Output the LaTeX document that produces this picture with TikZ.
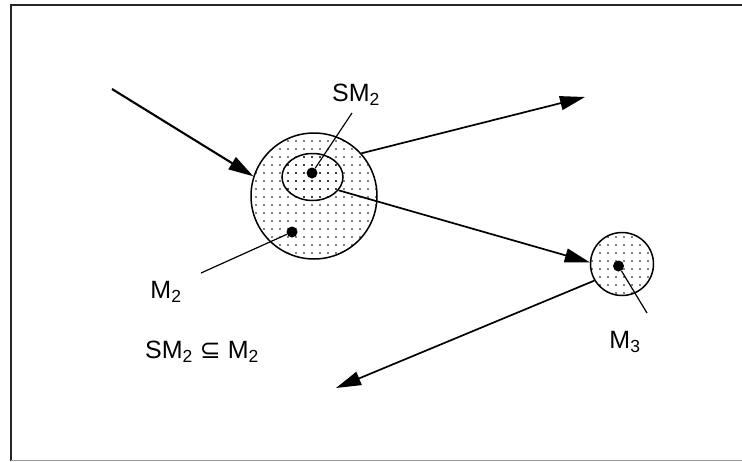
\documentclass[tikz,border=0pt]{standalone}
\usepackage{fontspec}
\setmainfont{Liberation Sans}
\newfontfamily\symfont{DejaVu Sans}
\usetikzlibrary{arrows.meta,shapes.geometric,patterns.meta}
\tikzset{
  setbox/.style={draw=black,line width=1.5pt,pattern={Dots[distance=8pt,radius=0.95pt]},inner sep=0pt},
  arr/.style={line width=1.7pt,-{Triangle[length=25pt,width=14pt]}},
  lbl/.style={font=\fontsize{25}{28}\selectfont,inner sep=0pt},
  lead/.style={line width=1.2pt},
  pt/.style={circle,fill=black,minimum size=11pt,inner sep=0pt}
}
\begin{document}
\begin{tikzpicture}[x=1pt,y=-1pt]
\useasboundingbox (0,0) rectangle (742,461);
% frame
\draw[line width=2pt,black!85] (742,5) -- (10.5,5) -- (10.5,461);
\draw[line width=1pt,black!40] (10.5,460) -- (742,460);
% sets
\node[setbox,circle,minimum size=126pt] (M2) at (314,196) {};
\node[setbox,ellipse,minimum width=61pt,minimum height=47pt] (SM2) at (312.5,177) {};
\node[setbox,circle,minimum size=63pt] (M3) at (622,264) {};
% points
\node[pt] (d1) at (312,173) {};
\node[pt] (d2) at (292,232) {};
\node[pt] (d3) at (618.5,266) {};
% labels
\node[lbl] (lSM2) at (356,95) {SM\textsubscript{2}};
\node[lbl] (lM2) at (166,292) {M\textsubscript{2}};
\node[lbl] (lM3) at (625,342) {M\textsubscript{3}};
\node[lbl] (lrel) at (202,352) {SM\textsubscript{2} {\symfont ⊆} M\textsubscript{2}};
% free ends
\coordinate (in) at (112,89);
\coordinate (outA) at (585,97);
\coordinate (outB) at (336,388);
\coordinate (cSM2) at (352,113);
\coordinate (cM2) at (201,273);
\coordinate (cM3) at (647,313);
% arrows
\draw[arr,line width=2.1pt] (in) -- (M2.162);
\draw[arr] (M2.42) -- (outA);
\draw[arr] (SM2.-27) -- (M3.177);
\draw[arr] (M3.211) -- (outB);
% leader lines
\draw[lead] (cSM2) -- (d1);
\draw[lead] (cM2) -- (d2);
\draw[lead] (d3) -- (cM3);
\end{tikzpicture}
\end{document}
